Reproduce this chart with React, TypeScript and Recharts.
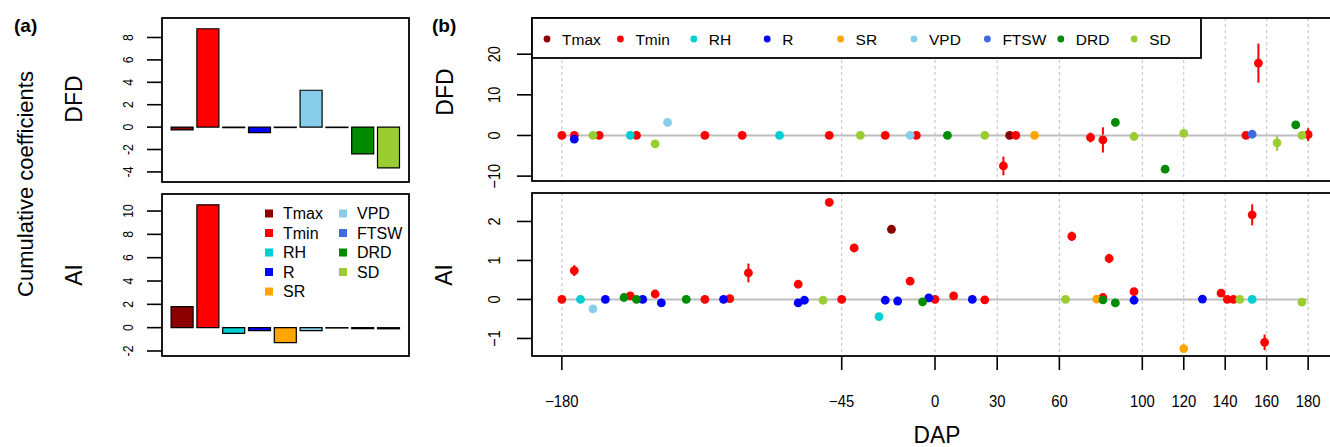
import React from 'react';
import {
  ComposedChart,
  BarChart,
  Bar,
  Cell,
  XAxis,
  YAxis,
  Scatter,
  ErrorBar,
  CartesianGrid,
} from 'recharts';

const FONT = '"Liberation Sans", Arial, Helvetica, sans-serif';

// ---------- data ----------
const variables = ['Tmax', 'Tmin', 'RH', 'R', 'SR', 'VPD', 'FTSW', 'DRD', 'SD'];
const palette = ['#8B0000', '#FF0000', '#00CED1', '#0000FF', '#FFA500', '#87CEEB', '#4169E1', '#008B00', '#9ACD32'];

// panel (a): cumulative coefficients
const dfdCumulative = [-0.24, 8.78, -0.05, -0.5, -0.04, 3.29, -0.04, -2.39, -3.64];
const aiCumulative = [1.8, 10.53, -0.49, -0.26, -1.29, -0.26, -0.03, -0.08, -0.1];
const dfdBarTicks = [-4, -2, 0, 2, 4, 6, 8];
const aiBarTicks = [-2, 0, 2, 4, 6, 8, 10];

// panel (b): [DAP, coefficient, error]
const dapTicks = [-180, -45, 0, 30, 60, 100, 120, 140, 160, 180];
const dfdTicks = [-10, 0, 10, 20];
const aiTicks = [-1, 0, 1, 2];

const dfdTmax = [[36, 0, 0]];
const dfdTmin = [
  [-180, 0, 0], [-174, 0, 0], [-162, 0, 0], [-144, 0, 0], [-111, 0, 0], [-93, 0, 0],
  [-51, 0, 0], [-24, 0, 0], [-9, 0, 0], [33, -7.5, 2.3], [39, 0, 0], [75, -0.5, 1.2],
  [81, -1.1, 3.1], [150, 0, 0], [156, 17.8, 4.8], [180, 0.2, 1.6],
];
const dfdRH = [[-147, 0, 0], [-75, 0, 0]];
const dfdR = [[-174, -0.9, 0]];
const dfdSR = [[48, 0, 0]];
const dfdVPD = [[-129, 3.2, 0], [-12, 0, 0]];
const dfdFTSW = [[153, 0.3, 0]];
const dfdDRD = [[6, 0, 0], [87, 3.2, 0], [111, -8.3, 0], [174, 2.6, 0]];
const dfdSD = [
  [-165, 0, 0], [-135, -2.05, 0], [-36, 0, 0], [24, 0, 0], [96, -0.25, 0],
  [120, 0.5, 0], [165, -1.8, 2.0], [177, 0, 0],
];

const aiTmax = [[-21, 1.8, 0.05]];
const aiTmin = [
  [-180, 0, 0], [-174, 0.74, 0.14], [-147, 0.09, 0], [-135, 0.14, 0], [-111, 0, 0],
  [-99, 0.02, 0], [-90, 0.68, 0.24], [-66, 0.39, 0], [-51, 2.49, 0], [-45, 0, 0],
  [-39, 1.32, 0], [-12, 0.47, 0], [0, 0, 0], [9, 0.09, 0], [24, -0.01, 0],
  [66, 1.62, 0.12], [81, 0.05, 0], [84, 1.05, 0.12], [96, 0.2, 0], [138, 0.16, 0],
  [141, 0, 0], [144, 0, 0], [153, 2.17, 0.27], [159, -1.1, 0.2],
];
const aiRH = [[-171, 0, 0], [-27, -0.44, 0], [153, 0, 0]];
const aiR = [
  [-159, 0, 0], [-141, 0, 0], [-132, -0.09, 0], [-102, 0, 0], [-66, -0.09, 0],
  [-63, -0.02, 0], [-24, -0.02, 0], [-18, -0.04, 0], [-3, 0.04, 0], [18, 0, 0],
  [96, -0.02, 0], [129, 0.01, 0],
];
const aiSR = [[78, 0.01, 0], [120, -1.26, 0]];
const aiVPD = [[-165, -0.24, 0]];
const aiFTSW: number[][] = [];
const aiDRD = [[-150, 0.05, 0], [-144, 0, 0], [-120, 0, 0], [-6, -0.06, 0], [81, -0.01, 0], [87, -0.09, 0]];
const aiSD = [[-54, -0.02, 0], [63, 0, 0], [147, 0, 0], [177, -0.07, 0]];

const dfdSeries = [dfdTmax, dfdTmin, dfdRH, dfdR, dfdSR, dfdVPD, dfdFTSW, dfdDRD, dfdSD];
const aiSeries = [aiTmax, aiTmin, aiRH, aiR, aiSR, aiVPD, aiFTSW, aiDRD, aiSD];

const zeroLine = [
  { dap: -180, v: 0 },
  { dap: 180, v: 0 },
];

// ---------- helpers ----------
const minus = (v: number) => (v < 0 ? '\u2212' + Math.abs(v) : String(v));

const RotTick = (props: any) => {
  const { x, y, payload, off, fs, sx, fmt } = props;
  return (
    <text
      transform={`translate(${x - off},${y}) rotate(-90) scale(${sx},1)`}
      textAnchor="middle"
      fontSize={fs}
      fontFamily={FONT}
      fill="#000"
    >
      {fmt(payload.value)}
    </text>
  );
};

const XTick = (props: any) => {
  const { x, y, payload } = props;
  return (
    <text
      transform={`translate(${x},${y + 37}) scale(0.9,1)`}
      textAnchor="middle"
      fontSize={16.5}
      fontFamily={FONT}
      fill="#000"
    >
      {minus(payload.value)}
    </text>
  );
};

const tickLineStyle = { stroke: '#000', strokeWidth: 1.6 };

function BarPanel({ values, domain, ticks, height }: any) {
  const data = variables.map((name, i) => ({ name, value: values[i] }));
  return (
    <BarChart
      width={307}
      height={height + 8}
      data={data}
      margin={{ top: 0, right: 0, bottom: 8, left: 0 }}
      barCategoryGap={1.7}
    >
      <XAxis dataKey="name" hide padding={{ left: 7.4, right: 7.4 }} />
      <YAxis
        type="number"
        domain={domain}
        ticks={ticks}
        allowDataOverflow
        interval={0}
        width={60}
        tickSize={15}
        tickMargin={0}
        axisLine={false}
        tickLine={tickLineStyle}
        tick={(p: any) => <RotTick {...p} off={14} fs={14} sx={0.88} fmt={(v: number) => String(v)} />}
      />
      <Bar dataKey="value" stroke="#000" strokeWidth={1.2} isAnimationActive={false}>
        {data.map((d, i) => (
          <Cell key={d.name} fill={palette[i]} />
        ))}
      </Bar>
    </BarChart>
  );
}

function ScatterPanel({ series, domain, ticks, height, showX }: any) {
  const xAxisH = showX ? 60 : 0;
  const extra = showX ? 0 : 10;
  return (
    <ComposedChart
      width={866}
      height={height + xAxisH + extra}
      margin={{ top: 0, right: 0, bottom: extra, left: 0 }}
    >
      <CartesianGrid horizontal={false} stroke="#BEBEBE" strokeDasharray="3 3" />
      <XAxis
        type="number"
        dataKey="dap"
        domain={[-194.4, 194.4]}
        ticks={dapTicks}
        allowDataOverflow
        interval={0}
        height={xAxisH}
        tickSize={showX ? 14 : 0}
        tickMargin={0}
        axisLine={false}
        tickLine={showX ? tickLineStyle : false}
        tick={showX ? (p: any) => <XTick {...p} /> : () => <g />}
      />
      <YAxis
        type="number"
        dataKey="v"
        domain={domain}
        ticks={ticks}
        allowDataOverflow
        interval={0}
        width={60}
        tickSize={15}
        tickMargin={0}
        axisLine={false}
        tickLine={tickLineStyle}
        tick={(p: any) => <RotTick {...p} off={17.5} fs={16.5} sx={0.88} fmt={minus} />}
      />
      <Scatter
        data={zeroLine}
        dataKey="v"
        line={{ stroke: '#BEBEBE', strokeWidth: 2 }}
        shape={() => <g />}
        isAnimationActive={false}
      />
      {variables.map((name, i) => {
        const data = series[i].map((r: number[]) => ({ dap: r[0], v: r[1], e: r[2] }));
        return (
          <Scatter
            key={name}
            name={name}
            data={data}
            dataKey="v"
            fill={palette[i]}
            isAnimationActive={false}
            shape={(p: any) => <circle cx={p.cx} cy={p.cy} r={4.4} fill={palette[i]} />}
          >
            <ErrorBar dataKey="e" direction="y" width={0} stroke={palette[i]} strokeWidth={2} isAnimationActive={false} />
          </Scatter>
        );
      })}
    </ComposedChart>
  );
}

export default function App() {
  const aLegendRows = 5;
  return (
    <div
      style={{
        position: 'absolute',
        left: 0,
        top: 0,
        width: 1330,
        height: 447,
        overflow: 'hidden',
        background: '#fff',
        fontFamily: FONT,
      }}
    >
      {/* panel (a) */}
      <div style={{ position: 'absolute', left: 102, top: 18 }}>
        <BarPanel values={dfdCumulative} domain={[-4.9, 9.74]} ticks={dfdBarTicks} height={164} />
      </div>
      <div style={{ position: 'absolute', left: 102, top: 194 }}>
        <BarPanel values={aiCumulative} domain={[-2.43, 11.46]} ticks={aiBarTicks} height={162} />
      </div>
      {/* panel (b) */}
      <div style={{ position: 'absolute', left: 472, top: 18 }}>
        <ScatterPanel series={dfdSeries} domain={[-11.2, 28.9]} ticks={dfdTicks} height={163} showX={false} />
      </div>
      <div style={{ position: 'absolute', left: 472, top: 193 }}>
        <ScatterPanel series={aiSeries} domain={[-1.45, 2.73]} ticks={aiTicks} height={163} showX={true} />
      </div>

      {/* overlay: frames, legends, titles */}
      <svg
        width={1330}
        height={447}
        style={{ position: 'absolute', left: 0, top: 0, pointerEvents: 'none' }}
        fontFamily={FONT}
      >
        <rect x={162} y={18} width={247} height={164} fill="none" stroke="#000" strokeWidth={1.8} />
        <rect x={162} y={194} width={247} height={162} fill="none" stroke="#000" strokeWidth={1.8} />
        <rect x={532} y={18} width={806} height={163} fill="none" stroke="#000" strokeWidth={1.8} />
        <rect x={532} y={193} width={806} height={163} fill="none" stroke="#000" strokeWidth={1.8} />

        {/* legend (b) */}
        <rect x={532} y={18} width={669} height={40} fill="#fff" stroke="#000" strokeWidth={1.8} />
        {variables.map((name, i) => (
          <g key={name}>
            <circle cx={547 + i * 73.4} cy={39} r={3.4} fill={palette[i]} />
            <text x={562 + i * 73.4} y={44.5} fontSize={15.5} fill="#000">
              {name}
            </text>
          </g>
        ))}

        {/* legend (a) */}
        {variables.map((name, i) => {
          const col = Math.floor(i / aLegendRows);
          const row = i % aLegendRows;
          const cx = 269 + col * 74;
          const cy = 213.5 + row * 19.5;
          return (
            <g key={name}>
              <rect x={cx - 4} y={cy - 4} width={8} height={8} fill={palette[i]} />
              <text x={cx + 14} y={cy + 5.6} fontSize={16} fill="#000">
                {name}
              </text>
            </g>
          );
        })}

        {/* titles */}
        <text x={14} y={32} fontSize={19} fontWeight="bold" fill="#000">(a)</text>
        <text x={432} y={32} fontSize={19} fontWeight="bold" fill="#000">(b)</text>
        <text transform="translate(33,184) rotate(-90)" textAnchor="middle" fontSize={22} fill="#000">
          Cumulative coefficients
        </text>
        <text transform="translate(82,99) rotate(-90)" textAnchor="middle" fontSize={23} fill="#000">DFD</text>
        <text transform="translate(82,275) rotate(-90)" textAnchor="middle" fontSize={23} fill="#000">AI</text>
        <text transform="translate(453,92) rotate(-90)" textAnchor="middle" fontSize={23} fill="#000">DFD</text>
        <text transform="translate(452,275) rotate(-90)" textAnchor="middle" fontSize={23} fill="#000">AI</text>
        <text transform="translate(937,443) scale(0.95,1)" textAnchor="middle" fontSize={24} fill="#000">DAP</text>
      </svg>
    </div>
  );
}
